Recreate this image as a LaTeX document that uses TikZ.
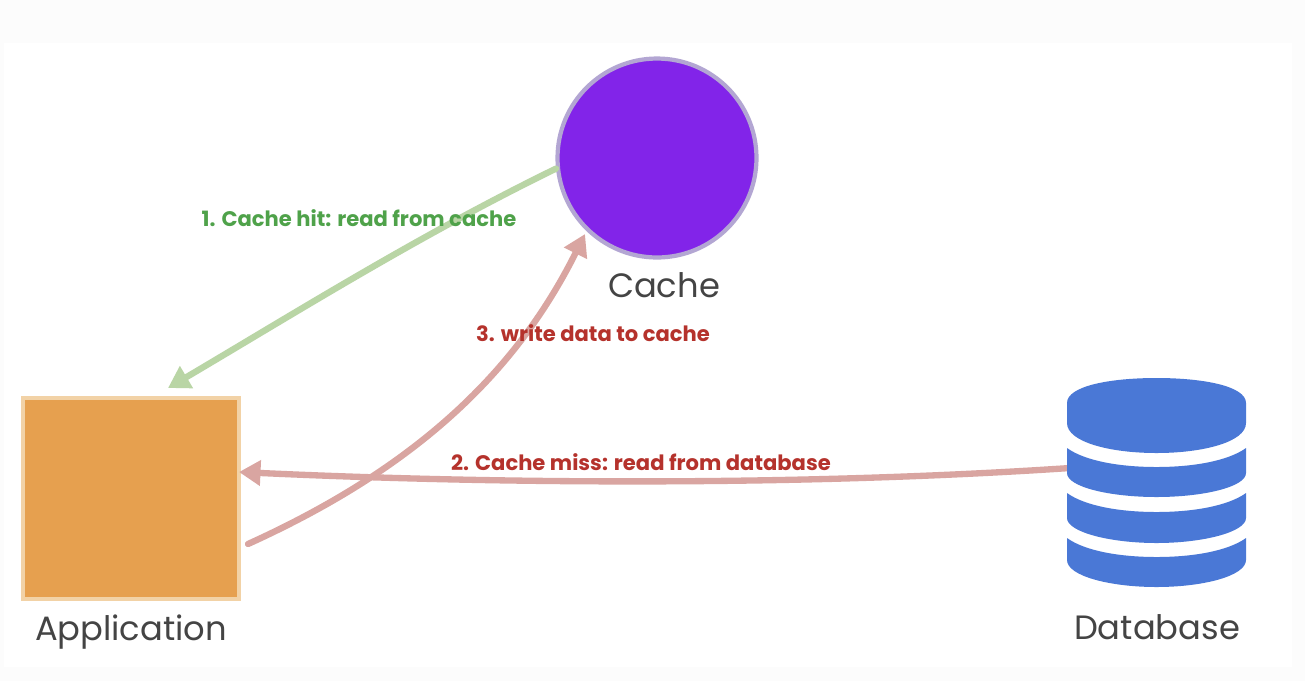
\documentclass[tikz,border=0pt]{standalone}
\usepackage{fontspec}
\setmainfont{Poppins}
\usepackage{tikz}
\usetikzlibrary{positioning,arrows.meta}
\definecolor{cachefill}{HTML}{8224E9}
\definecolor{cacheline}{HTML}{B3A6D3}
\definecolor{appfill}{HTML}{E6A04F}
\definecolor{appline}{HTML}{F2D2A6}
\definecolor{dbfill}{HTML}{4A78D6}
\definecolor{hitline}{HTML}{B9D5A5}
\definecolor{hittext}{HTML}{4FA24A}
\definecolor{missline}{HTML}{D9A5A1}
\definecolor{misstext}{HTML}{B5322C}
\definecolor{nametext}{HTML}{444444}
\definecolor{pageedge}{HTML}{FCFCFC}
\tikzset{
  flowarrow/.style={-{Triangle[length=4.3mm,width=4.9mm]}, line width=3.6pt, line cap=round},
  hitarrow/.style={flowarrow, color=hitline},
  missarrow/.style={flowarrow, color=missline},
  hitlabel/.style={text=hittext, font=\fontsize{12pt}{14pt}\selectfont\bfseries, inner sep=0pt},
  misslabel/.style={text=misstext, font=\fontsize{12pt}{14pt}\selectfont\bfseries, inner sep=0pt},
  namelabel/.style={text=nametext, font=\fontsize{19.2pt}{22pt}\selectfont, inner sep=0pt, anchor=base},
  cachenode/.style={draw=cacheline, fill=cachefill, circle, line width=2.4pt, minimum size=3.98cm, inner sep=0pt},
  appnode/.style={draw=appline, fill=appfill, rectangle, line width=2pt, minimum width=4.33cm, minimum height=4.02cm, inner sep=0pt},
  dbnode/.style={minimum width=3.58cm, minimum height=4.18cm, inner sep=0pt},
  dbband/.style={fill=dbfill, draw=none}
}
\begin{document}
\begin{tikzpicture}[x=0.02cm, y=-0.02cm, >=Latex]
  \fill[pageedge] (0,0) rectangle (1305,681);
  \fill[white] (4,43) rectangle (1292,667);
  \node[cachenode] (cache) at (657,158) {};
  \node[appnode] (app) at (131,498.5) {};
  \node[dbnode] (db) at (1156.5,482.5) {};
  \coordinate (hitend) at (168,388);
  \coordinate (writestart) at (248,544);
  \coordinate (writeend) at (585,234);
  \coordinate (missend) at (239,472);
  \coordinate (missstart) at (1070,468);
  \draw[hitarrow] (cache.186) .. controls (420,235) and (300,310) .. (hitend);
  \draw[missarrow] (missstart) .. controls (800,486) and (500,484) .. (missend);
  \draw[missarrow] (writestart) .. controls (400,475) and (510,385) .. (writeend);
  % database bands
  \fill[dbband] (1067,403) .. controls (1067,386) and (1110,378) .. (1156.5,378) .. controls (1203,378) and (1246,386) .. (1246,403) -- (1246,423) .. controls (1246,442) and (1203,453) .. (1156.5,453) .. controls (1110,453) and (1067,442) .. (1067,423) -- cycle;
  \fill[dbband] (1067,448) .. controls (1085,461) and (1120,467) .. (1156.5,467) .. controls (1193,467) and (1228,461) .. (1246,448) -- (1246,473) .. controls (1246,487) and (1203,497) .. (1156.5,497) .. controls (1110,497) and (1067,487) .. (1067,473) -- cycle;
  \fill[dbband] (1067,493) .. controls (1085,506) and (1120,512) .. (1156.5,512) .. controls (1193,512) and (1228,506) .. (1246,493) -- (1246,518) .. controls (1246,532) and (1203,543) .. (1156.5,543) .. controls (1110,543) and (1067,532) .. (1067,518) -- cycle;
  \fill[dbband] (1067,538) .. controls (1085,551) and (1120,557) .. (1156.5,557) .. controls (1193,557) and (1228,551) .. (1246,538) -- (1246,560) .. controls (1246,576) and (1203,587) .. (1156.5,587) .. controls (1110,587) and (1067,576) .. (1067,560) -- cycle;
  \node[hitlabel] (hittext) at (359,218) {1. Cache hit: read from cache};
  \node[misslabel] (writetext) at (593,333) {3. write data to cache};
  \node[misslabel] (misstext) at (641,462) {2. Cache miss: read from database};
  \node[namelabel] (cachename) at (664,297) {Cache};
  \node[namelabel] (appname) at (131,640) {Application};
  \node[namelabel] (dbname) at (1157,639) {Database};
\end{tikzpicture}
\end{document}
